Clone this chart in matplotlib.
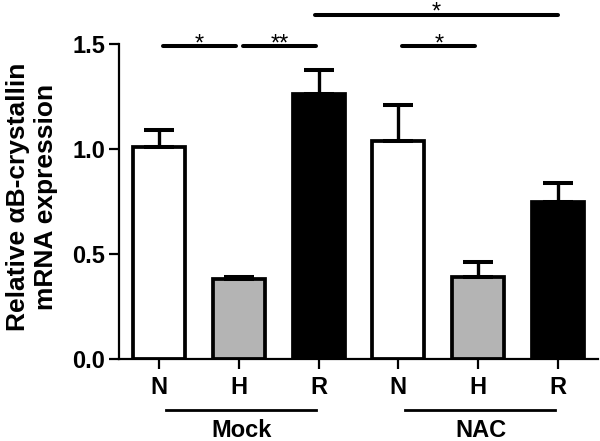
import matplotlib
matplotlib.use('Agg')
import matplotlib.pyplot as plt
import numpy as np

# data
categories = ['N', 'H', 'R', 'N', 'H', 'R']
means = [1.01, 0.38, 1.26, 1.04, 0.39, 0.75]
sem = [0.08, 0.01, 0.115, 0.17, 0.073, 0.09]
bar_colors = ['white', '#b4b4b4', 'black', 'white', '#b4b4b4', 'black']
groups = ['Mock', 'NAC']
group_members = [(0, 2), (3, 5)]
# significance comparisons: (first bar, second bar, level, label)
comparisons = [(0, 1, 1.49, '*'), (1, 2, 1.49, '**'), (3, 4, 1.49, '*'), (2, 5, 1.64, '*')]

plt.rcParams['font.family'] = ['Liberation Sans', 'DejaVu Sans']

fig = plt.figure(figsize=(6, 4.41), dpi=100)
ax = fig.add_axes([0.1988, 0.1853, 0.7973, 0.7149])

x = np.arange(len(categories))
ax.bar(x, means, width=0.65, color=bar_colors, edgecolor='black', linewidth=2.7, zorder=2)
ax.errorbar(x, means, yerr=[np.zeros(len(sem)), sem], fmt='none', ecolor='black',
            elinewidth=2.4, capsize=11, capthick=2.9, zorder=3)

ax.set_xlim(-0.5, 5.5)
ax.set_ylim(0, 1.5)
ax.set_yticks([0.0, 0.5, 1.0, 1.5])
ax.set_yticklabels(['0.0', '0.5', '1.0', '1.5'])
ax.set_xticks(x)
ax.set_xticklabels(categories)

for side in ['top', 'right']:
    ax.spines[side].set_visible(False)
for side in ['left', 'bottom']:
    ax.spines[side].set_linewidth(1.6)
ax.tick_params(axis='both', direction='out', length=7.2, width=1.6, labelsize=17)
ax.tick_params(axis='x', pad=5)
ax.tick_params(axis='y', pad=3)
for lab in ax.get_xticklabels() + ax.get_yticklabels():
    lab.set_fontweight('bold')

ax.set_ylabel('Relative \u03b1B-crystallin\nmRNA expression', fontsize=19,
              fontweight='bold', linespacing=1.2)
ax.yaxis.set_label_coords(-0.128, 0.515)

# significance lines
for i, j, level, label in comparisons:
    if j - i == 1:
        start, end = i + 0.05, j - 0.035
    else:
        start, end = i - 0.04, j
    ax.plot([start, end], [level, level], color='black', lw=2.9,
            solid_capstyle='round', clip_on=False)
    ax.text((start + end) / 2, level - 0.02, label, ha='center', va='baseline',
            fontsize=17, clip_on=False)

# group lines and labels under the tick labels
for name, (a, b) in zip(groups, group_members):
    ax.plot([a + 0.08, b - 0.03], [-0.241, -0.241], color='black', lw=2,
            clip_on=False)
    ax.text((a + b) / 2 + 0.03, -0.37, name, ha='center', va='baseline',
            fontsize=17, fontweight='bold')

fig.savefig('out.png', dpi=100, facecolor='white')
